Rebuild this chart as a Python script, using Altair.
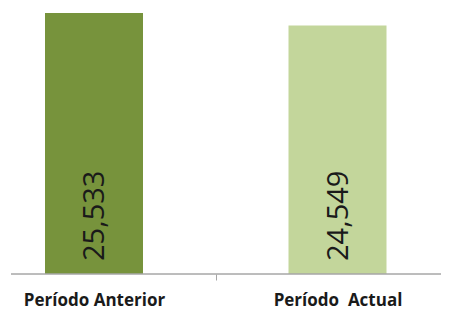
import altair as alt
import pandas as pd

categories = ["Período Anterior", "Período\u00a0 Actual"]
values = [25533, 24549]
labels = ["25,533", "24,549"]
colors = ["#77933C", "#C3D69B"]

df = pd.DataFrame({"cat": categories, "val": values, "lab": labels, "col": colors})

y_min = 5000
y_scale = alt.Scale(domain=[y_min, 25927], nice=False, zero=False)

x = alt.X(
    "cat:N",
    sort=categories,
    title=None,
    scale=alt.Scale(range=[-38.75, 448.25], paddingInner=0, paddingOuter=0),
    axis=alt.Axis(
        domain=False,
        tickBand="extent",
        tickSize=6,
        tickColor="#a6a6a6",
        labelAngle=0,
        labelFont="Open Sans",
        labelFontSize=17,
        labelFontWeight="bold",
        labelColor="#1a1a1a",
        labelPadding=12,
        labelBaseline="top",
        grid=False,
    ),
)

bars = alt.Chart(df).mark_bar(size=98).encode(
    x=x,
    y=alt.Y("val:Q", scale=y_scale, axis=None),
    y2=alt.datum(y_min),
    color=alt.Color("col:N", scale=None, legend=None),
)

base_rule = alt.Chart(df).mark_rule(color="#a6a6a6", strokeWidth=1).encode(
    y=alt.value(266),
    x=alt.value(0),
    x2=alt.value(430),
)

text = alt.Chart(df).mark_text(
    angle=270, align="left", baseline="middle", dx=13, dy=1,
    font="Open Sans", fontSize=29, color="#1a1a1a",
).encode(
    x=alt.X("cat:N", sort=categories),
    y=alt.datum(y_min),
    text="lab:N",
)

chart = alt.layer(bars, base_rule, text).properties(
    width=430, height=266,
    autosize=alt.AutoSizeParams(type="none"),
    padding={"left": 3, "top": 0, "right": 0, "bottom": 37},
).configure_view(stroke=None)

chart.save("out.html", embed_options={"renderer": "svg", "actions": False})
